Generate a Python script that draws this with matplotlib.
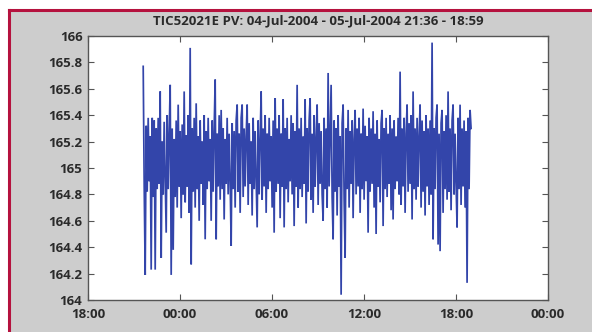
import numpy as np
import matplotlib
matplotlib.use('Agg')
import matplotlib.pyplot as plt
import matplotlib.dates as mdates
from matplotlib.lines import Line2D
from matplotlib.patches import Rectangle
from matplotlib.ticker import FuncFormatter
from datetime import datetime

# Process value log for TIC52021E
tag = 'TIC52021E PV'
t_start = datetime(2004, 7, 4, 21, 36)
t_end = datetime(2004, 7, 5, 18, 59)

pv = [
    165.77, 164.86, 164.19, 165.32, 164.82, 165.38, 164.90, 165.24, 164.23, 165.38, 164.78, 165.36, 164.23, 165.30, 164.84, 165.38,
    164.88, 165.58, 164.32, 165.20, 164.80, 165.35, 164.92, 164.51, 165.40, 164.84, 165.26, 165.63, 164.19, 165.30, 164.38, 165.22,
    164.78, 165.36, 164.70, 165.48, 164.86, 165.28, 164.62, 165.33, 164.80, 165.58, 164.74, 165.25, 164.86, 165.40, 164.66, 165.91,
    164.27, 165.30, 164.82, 165.38, 164.70, 165.49, 164.84, 165.24, 164.60, 165.36, 164.88, 165.20, 164.72, 165.40, 164.46, 165.28,
    164.84, 165.38, 164.90, 165.22, 164.60, 165.36, 164.82, 165.30, 165.67, 164.46, 165.26, 164.86, 165.40, 164.76, 165.44, 164.84,
    165.30, 164.61, 165.22, 164.88, 165.38, 164.80, 165.26, 164.90, 164.41, 165.34, 164.84, 165.28, 164.70, 165.36, 165.48, 164.82,
    165.26, 164.66, 165.38, 165.48, 164.78, 165.30, 164.86, 165.24, 165.48, 164.72, 165.34, 164.88, 165.20, 164.64, 165.38, 164.84,
    165.28, 164.90, 164.55, 165.36, 164.80, 165.22, 165.58, 164.76, 165.30, 164.86, 165.40, 164.66, 165.26, 164.84, 165.38, 164.90,
    165.24, 164.70, 165.36, 164.51, 165.53, 164.82, 165.30, 164.88, 165.40, 164.62, 165.26, 164.86, 165.52, 164.55, 165.30, 164.84,
    165.38, 164.74, 165.22, 164.90, 165.40, 164.80, 165.34, 164.56, 165.28, 164.86, 165.63, 164.70, 165.30, 164.84, 165.38, 164.78,
    165.24, 164.88, 165.52, 164.58, 165.30, 164.82, 165.36, 165.53, 164.76, 165.26, 164.66, 165.40, 164.86, 165.22, 165.48, 164.72,
    165.34, 164.88, 165.28, 164.80, 164.60, 165.38, 164.84, 165.30, 164.70, 165.72, 164.86, 165.26, 165.63, 164.78, 164.46, 165.36,
    164.82, 165.30, 164.64, 165.40, 164.86, 165.24, 164.04, 165.34, 165.48, 164.76, 164.32, 165.30, 164.84, 165.44, 164.70, 165.28,
    164.88, 165.36, 164.62, 165.22, 165.44, 164.80, 165.30, 164.86, 165.38, 164.66, 165.26, 164.84, 165.45, 164.76, 165.32, 164.90,
    165.24, 164.51, 165.38, 164.82, 165.30, 164.88, 165.43, 164.70, 165.26, 164.50, 165.36, 164.86, 165.22, 164.74, 165.34, 165.44,
    164.56, 165.30, 164.84, 165.38, 164.78, 165.26, 164.88, 165.40, 164.68, 165.30, 164.61, 165.36, 164.84, 165.24, 164.90, 165.38,
    164.80, 165.73, 164.72, 165.30, 164.86, 165.38, 164.66, 165.26, 165.48, 164.82, 165.34, 164.88, 165.40, 164.61, 165.58, 164.84,
    165.30, 164.76, 165.38, 164.86, 165.24, 165.48, 164.70, 165.36, 164.82, 165.28, 164.64, 165.40, 164.86, 165.30, 164.72, 165.36,
    164.80, 165.95, 164.46, 165.30, 164.84, 165.38, 165.48, 164.42, 165.26, 164.37, 165.34, 165.44, 164.66, 165.28, 164.84, 165.40,
    164.76, 165.58, 164.82, 165.30, 164.68, 165.36, 165.48, 164.80, 165.26, 164.88, 164.55, 165.38, 164.84, 165.48, 164.72, 165.30,
    164.86, 165.36, 164.70, 165.28, 164.13, 165.38, 164.84, 165.44, 165.30,
]

# evenly sampled between first and last record
t = np.linspace(mdates.date2num(t_start), mdates.date2num(t_end), len(pv))

W, H = 592, 332
fig = plt.figure(figsize=(W / 100, H / 100), dpi=100, facecolor='white')

# grey panel with red frame on top and left
fig.patches.append(Rectangle((9 / W, 0), 1, 1 - 11 / H, transform=fig.transFigure,
                             facecolor='#cdcdcd', edgecolor='none', zorder=-2))
fig.lines.append(Line2D([8.5 / W, 8.5 / W], [0, 1 - 9.5 / H], transform=fig.transFigure,
                        color='#b5123e', lw=2.2, zorder=-1))
fig.lines.append(Line2D([8.5 / W, 1], [1 - 10 / H, 1 - 10 / H], transform=fig.transFigure,
                        color='#b5123e', lw=2.2, zorder=-1))

ax = fig.add_axes([88 / W, 1 - 300 / H, 460 / W, 264 / H])
ax.set_zorder(1)
ax.set_facecolor('white')
ax.plot(t, pv, color='#3345aa', lw=1.25, solid_joinstyle='miter')

ax.set_xlim(datetime(2004, 7, 4, 18, 0), datetime(2004, 7, 6, 0, 0))
ax.set_ylim(164, 166)
ax.set_yticks(np.arange(164, 166.01, 0.2))
ax.yaxis.set_major_formatter(FuncFormatter(lambda v, p: '%g' % round(v, 1)))
ax.xaxis.set_major_locator(mdates.HourLocator(byhour=[0, 6, 12, 18]))
ax.xaxis.set_major_formatter(mdates.DateFormatter('%H:%M'))

for s in ax.spines.values():
    s.set_color('#555555')
    s.set_linewidth(1.0)
ax.tick_params(direction='in', length=4, width=0.8, color='#555555',
               top=True, right=True, labelsize=9.5, labelcolor='#2a2a2a')
ax.tick_params(axis='x', pad=6)
ax.tick_params(axis='y', pad=4)
for lbl in ax.get_xticklabels() + ax.get_yticklabels():
    lbl.set_fontweight('bold')
    lbl.set_fontfamily('Open Sans')

ax.set_title('%s: %s - %s %s - %s' % (tag, t_start.strftime('%d-%b-%Y'), t_end.strftime('%d-%b-%Y'),
                                      t_start.strftime('%H:%M'), t_end.strftime('%H:%M')),
             fontsize=9.5, fontweight='bold', family='Open Sans', color='#2a2a2a', pad=8)

fig.savefig('out.png', dpi=100, facecolor=fig.get_facecolor())
